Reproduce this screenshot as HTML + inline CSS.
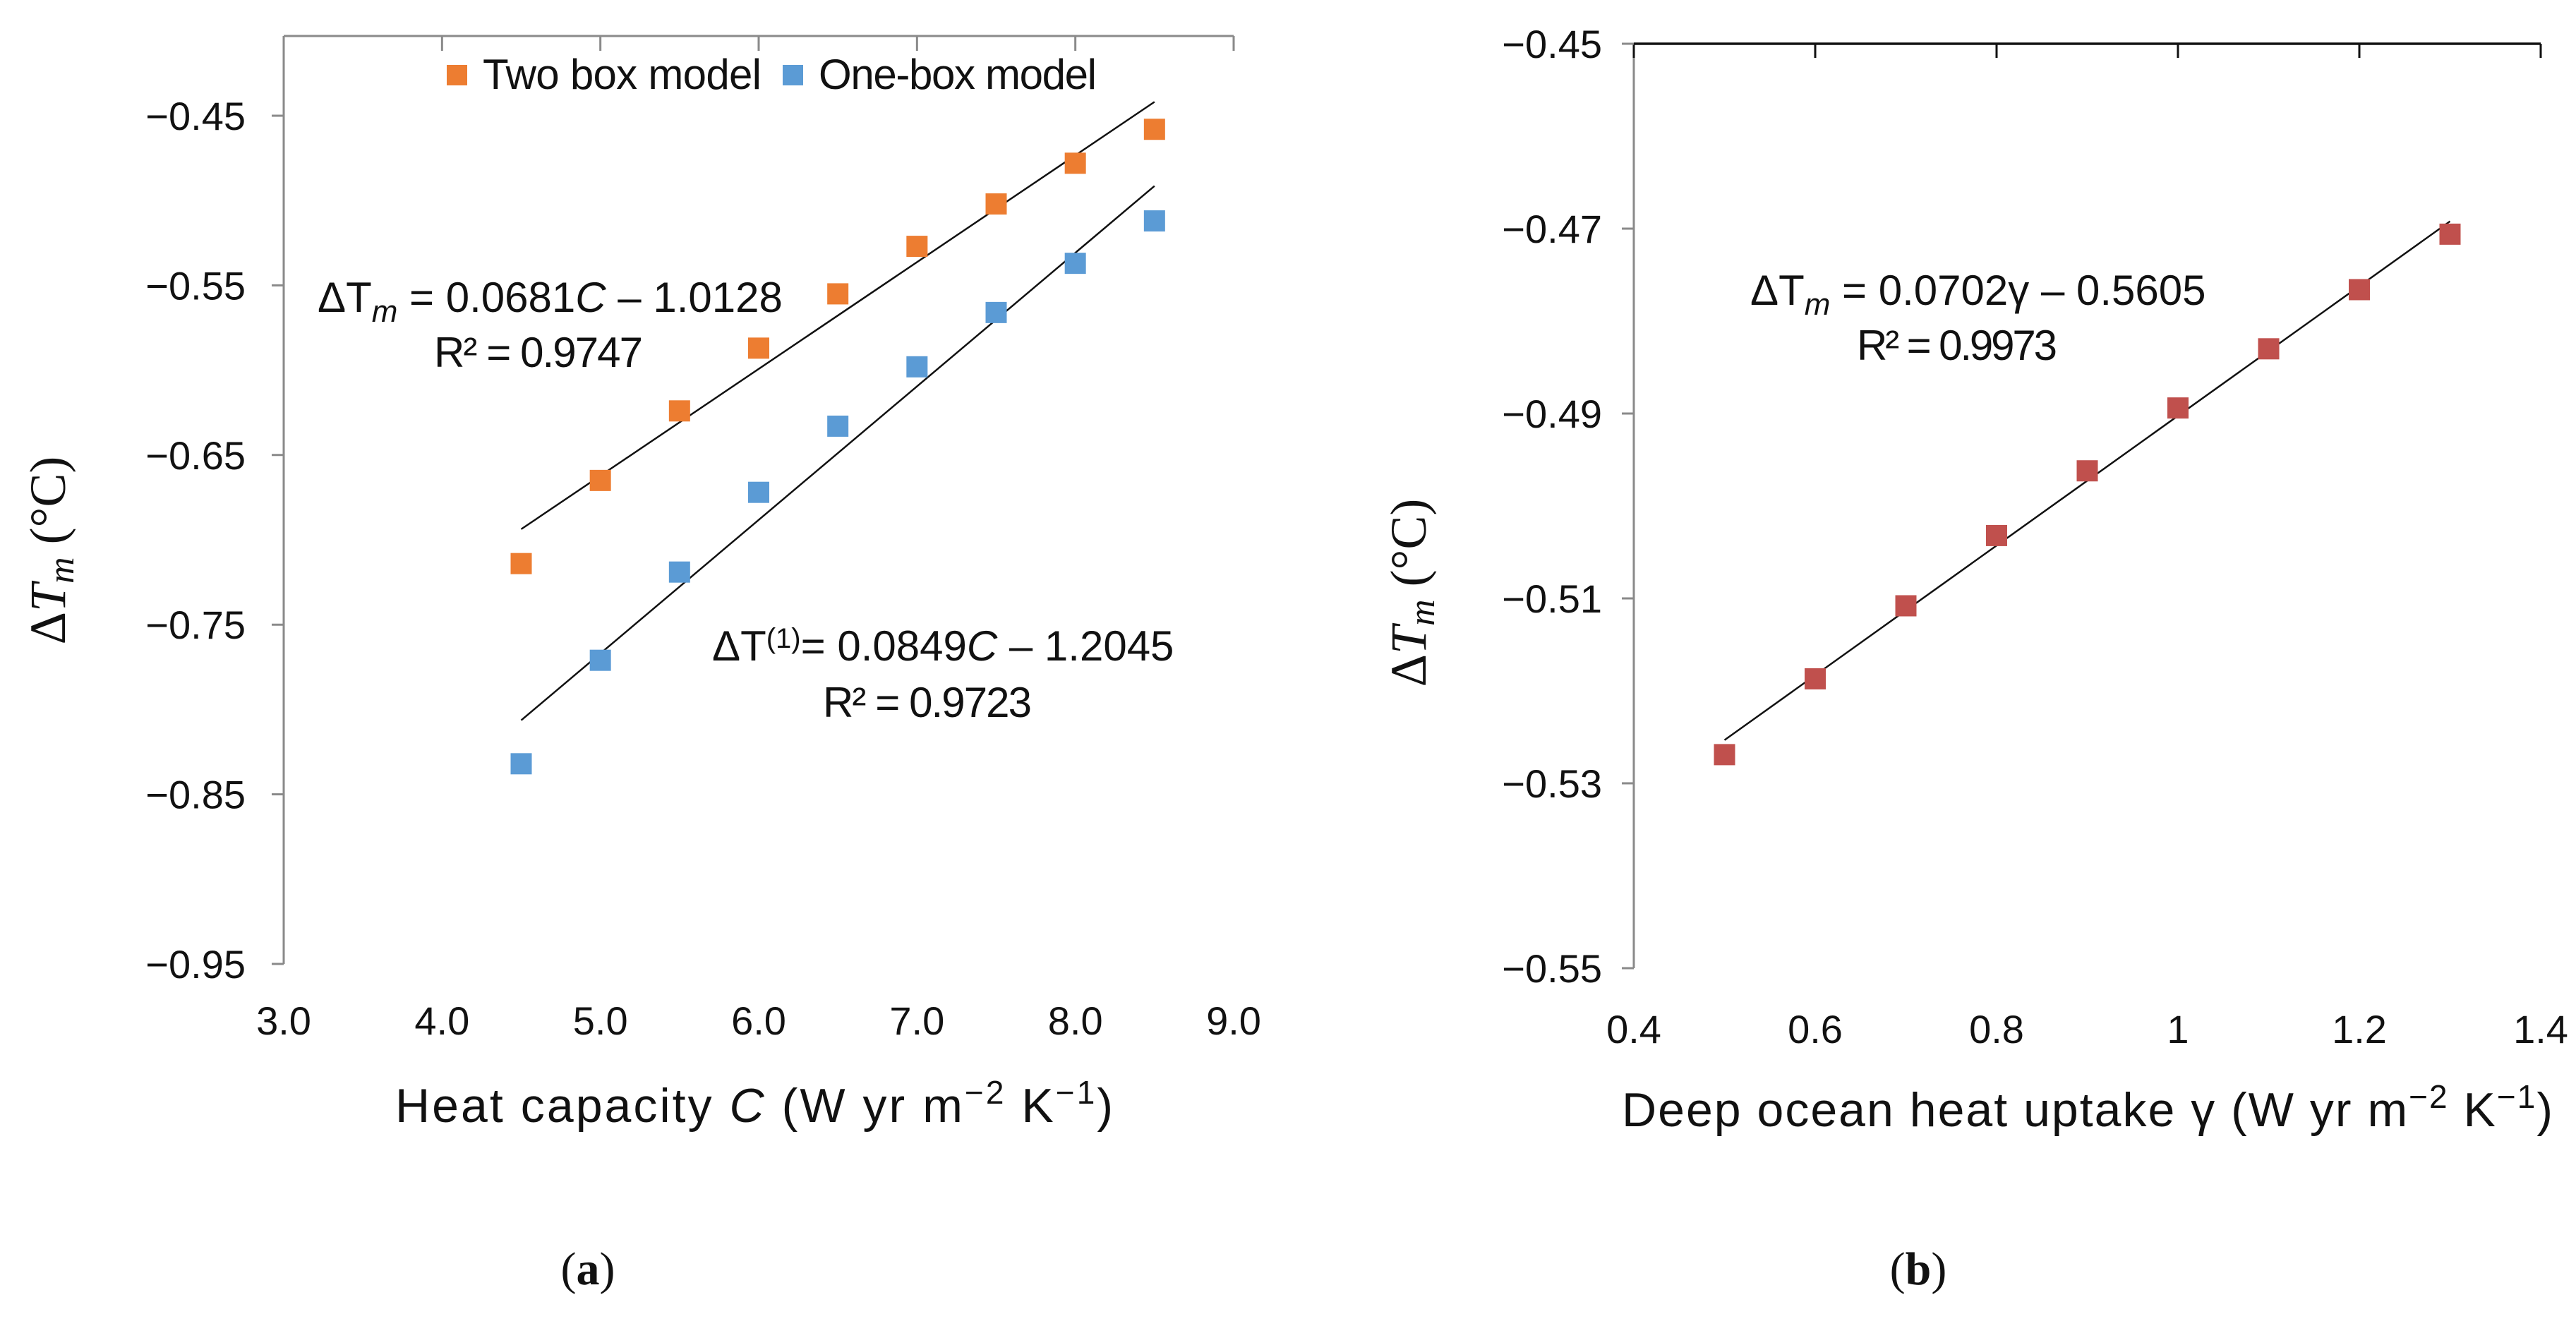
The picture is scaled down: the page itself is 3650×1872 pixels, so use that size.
<!DOCTYPE html>
<html><head><meta charset="utf-8"><style>
html,body{margin:0;padding:0;background:#fff;}
svg{display:block;font-family:"Liberation Sans",sans-serif;}
</style></head><body>
<svg id="fig" width="3650" height="1872" viewBox="0 0 3650 1872" xmlns="http://www.w3.org/2000/svg">
<g id="ga"></g>
<g id="gb"></g>
</svg>
<script>
// Chart (a) data
const capX = [4.5, 5.0, 5.5, 6.0, 6.5, 7.0, 7.5, 8.0, 8.5];
const twoBox = [-0.714, -0.665, -0.624, -0.587, -0.555, -0.527, -0.502, -0.478, -0.458];
const oneBox = [-0.832, -0.771, -0.719, -0.672, -0.633, -0.598, -0.566, -0.537, -0.512];
const aXTicks = [3.0, 4.0, 5.0, 6.0, 7.0, 8.0, 9.0];
const aYTicks = [-0.45, -0.55, -0.65, -0.75, -0.85, -0.95];
// Chart (b) data
const gammaX = [0.5, 0.6, 0.7, 0.8, 0.9, 1.0, 1.1, 1.2, 1.3];
const dTm = [-0.5269, -0.5187, -0.5108, -0.5032, -0.4962, -0.4894, -0.4830, -0.4766, -0.4706];
const bXTicks = [0.4, 0.6, 0.8, 1, 1.2, 1.4];
const bYTicks = [-0.45, -0.47, -0.49, -0.51, -0.53, -0.55];

const NS = "http://www.w3.org/2000/svg";
function mk(parent, tag, attrs, text){
  const e = document.createElementNS(NS, tag);
  for (const k in attrs) e.setAttribute(k, attrs[k]);
  if (text !== undefined) e.textContent = text;
  parent.appendChild(e);
  return e;
}
function fit(xs, ys){
  const n = xs.length; let mx=0,my=0;
  for(let i=0;i<n;i++){mx+=xs[i];my+=ys[i];}
  mx/=n; my/=n; let sxy=0,sxx=0;
  for(let i=0;i<n;i++){sxy+=(xs[i]-mx)*(ys[i]-my);sxx+=(xs[i]-mx)**2;}
  const m=sxy/sxx; return {m:m,b:my-m*mx};
}
const fmtNeg = v => "\u2212" + Math.abs(v).toFixed(2);

// ---------- Chart A ----------
const ga = document.getElementById('ga');
const aX = c => 402 + (c - 3) / 6 * (1748 - 402);
const aY = v => 164 + (-0.45 - v) / 0.5 * (1366 - 164);
mk(ga,'line',{x1:402,y1:51,x2:1748,y2:51,stroke:'#8a8a8a','stroke-width':3});
mk(ga,'line',{x1:402,y1:51,x2:402,y2:1366,stroke:'#8a8a8a','stroke-width':3});
aXTicks.forEach(t=>{
  const x=aX(t);
  let tk = mk(ga,'line',{x1:x,y1:51,x2:x,y2:72,stroke:'#8a8a8a','stroke-width':3});
  
  
  let lb = mk(ga,'text',{x:x,y:1466,'font-size':56,'text-anchor':'middle',fill:'#111'},t.toFixed(1));
  
  
});
aYTicks.forEach(t=>{
  const y=aY(t);
  let tk = mk(ga,'line',{x1:385,y1:y,x2:402,y2:y,stroke:'#8a8a8a','stroke-width':3});
  
  
  let lb = mk(ga,'text',{x:348,y:y+20,'font-size':56,'text-anchor':'end',fill:'#111'},fmtNeg(t));
  
  
});
[[capX,twoBox,'#ed7d31','two-box'],[capX,oneBox,'#5b9bd5','one-box']].forEach(s=>{
  const f=fit(s[0],s[1]);
  const x0=s[0][0], x1=s[0][s[0].length-1];
  let ln = mk(ga,'line',{x1:aX(x0),y1:aY(f.m*x0+f.b),x2:aX(x1),y2:aY(f.m*x1+f.b),stroke:'#111','stroke-width':2.5});
  
  
  s[0].forEach((c,i)=>{
    let r = mk(ga,'rect',{x:aX(c)-15,y:aY(s[1][i])-15,width:30,height:30,fill:s[2]});
    
    
  });
});
</script>
<script>
(function(){
const ga=document.getElementById('ga');
ga.insertAdjacentHTML('beforeend',`
<g>
 <rect x="633" y="92" width="29" height="29" fill="#ed7d31"/>
 <text x="684" y="126" font-size="60" textLength="395" fill="#111">Two box model</text>
 <rect x="1109" y="92" width="29" height="29" fill="#5b9bd5"/>
 <text x="1160" y="126" font-size="60" textLength="394" fill="#111">One-box model</text>
</g>
<text x="450" y="442" font-size="60" fill="#111">ΔT<tspan font-style="italic" font-size="44" dy="14">m</tspan><tspan dy="-14"> = 0.0681</tspan><tspan font-style="italic">C</tspan> – 1.0128</text>
<text x="615" y="520" font-size="60" textLength="296" fill="#111">R² = 0.9747</text>
<text x="1009" y="936" font-size="60" fill="#111">ΔT<tspan font-size="40" dy="-18">(1)</tspan><tspan dy="18">= 0.0849</tspan><tspan font-style="italic">C</tspan> – 1.2045</text>
<text x="1166" y="1016" font-size="60" textLength="296" fill="#111">R² = 0.9723</text>
<text x="560" y="1590" font-size="68" textLength="1017" fill="#111">Heat capacity  <tspan font-style="italic">C</tspan> (W yr m<tspan font-size="46" dy="-26">−2</tspan><tspan dy="26"> K</tspan><tspan font-size="46" dy="-26">−1</tspan><tspan dy="26">)</tspan></text>
<text transform="translate(92,780) rotate(-90)" font-size="72" text-anchor="middle" font-family="Liberation Serif, serif" fill="#111">Δ<tspan font-style="italic">T</tspan><tspan font-style="italic" font-size="52" dy="12">m</tspan><tspan dy="-12"> (°C)</tspan></text>
<text x="833" y="1820" font-size="66" text-anchor="middle" font-family="Liberation Serif, serif" fill="#111">(<tspan font-weight="bold">a</tspan>)</text>
`);
})();
</script>
<script>
(function(){
const gb=document.getElementById('gb');
const bX = g => 2315 + (g - 0.4) / 1.0 * (3600 - 2315);
const bY = v => 62 + (-0.45 - v) / 0.1 * (1372 - 62);
mk(gb,'line',{x1:2315,y1:62,x2:2315,y2:1372,stroke:'#8a8a8a','stroke-width':3});
mk(gb,'line',{x1:2315,y1:62,x2:3600,y2:62,stroke:'#111','stroke-width':3.5});
bXTicks.forEach(t=>{
  const x=bX(t);
  let tk = mk(gb,'line',{x1:x,y1:62,x2:x,y2:82,stroke:'#111','stroke-width':3});
  
  
  let lb = mk(gb,'text',{x:x,y:1478,'font-size':56,'text-anchor':'middle',fill:'#111'},String(t));
  
  
});
bYTicks.forEach(t=>{
  const y=bY(t);
  let tk = mk(gb,'line',{x1:2298,y1:y,x2:2315,y2:y,stroke:'#8a8a8a','stroke-width':3});
  
  
  let lb = mk(gb,'text',{x:2270,y:y+20,'font-size':56,'text-anchor':'end',fill:'#111'},fmtNeg(t));
  
  
});
const f=fit(gammaX,dTm);
const x0=gammaX[0], x1=gammaX[gammaX.length-1];
let ln = mk(gb,'line',{x1:bX(x0),y1:bY(f.m*x0+f.b),x2:bX(x1),y2:bY(f.m*x1+f.b),stroke:'#111','stroke-width':2.5});


gammaX.forEach((g,i)=>{
  let r = mk(gb,'rect',{x:bX(g)-15,y:bY(dTm[i])-15,width:30,height:30,fill:'#c0504d'});
  
  
});
gb.insertAdjacentHTML('beforeend',`
<text x="2480" y="432" font-size="60" fill="#111">ΔT<tspan font-style="italic" font-size="44" dy="14">m</tspan><tspan dy="-14"> = 0.0702γ – 0.5605</tspan></text>
<text x="2631" y="510" font-size="60" textLength="284" fill="#111">R² = 0.9973</text>
<text x="2298" y="1596" font-size="68" textLength="1319" fill="#111">Deep ocean heat uptake γ (W yr m<tspan font-size="46" dy="-26">−2</tspan><tspan dy="26"> K</tspan><tspan font-size="46" dy="-26">−1</tspan><tspan dy="26">)</tspan></text>
<text transform="translate(2020,840) rotate(-90)" font-size="72" text-anchor="middle" font-family="Liberation Serif, serif" fill="#111">Δ<tspan font-style="italic">T</tspan><tspan font-style="italic" font-size="52" dy="12">m</tspan><tspan dy="-12"> (°C)</tspan></text>
<text x="2718" y="1820" font-size="66" text-anchor="middle" font-family="Liberation Serif, serif" fill="#111">(<tspan font-weight="bold">b</tspan>)</text>
`);
})();
</script>
</body></html>
